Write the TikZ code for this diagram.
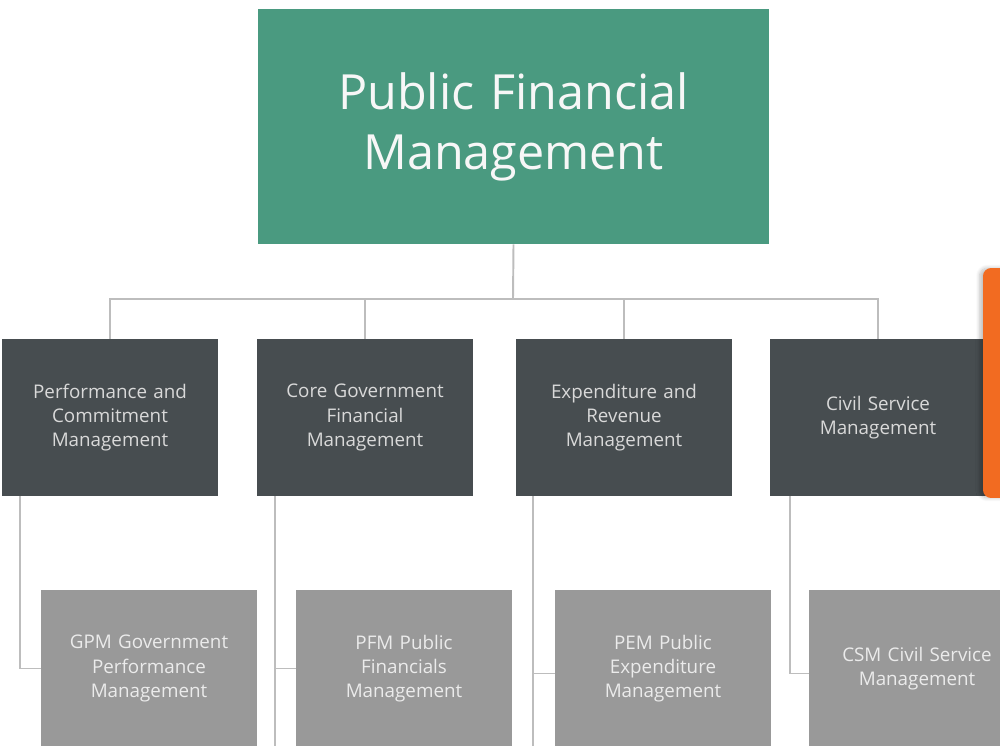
\documentclass[tikz,border=0pt]{standalone}
\usepackage{fontspec}
\setmainfont{Open Sans}
\usetikzlibrary{positioning,shadows.blur}

\definecolor{pfmgreen}{HTML}{4A9A80}
\definecolor{pfmdark}{HTML}{474D50}
\definecolor{pfmlight}{HTML}{999999}
\definecolor{pfmline}{HTML}{BDBDBD}
\definecolor{pfmorange}{HTML}{F26B21}

\begin{document}
\begin{tikzpicture}[
x=0.02cm,y=-0.02cm,
box/.style={
rectangle,
minimum width=4.32cm,
minimum height=3.14cm,
inner sep=0pt,
text width=3.9cm,
align=center},
root/.style={box,fill=pfmgreen,text=white!97!black,
minimum width=10.22cm,minimum height=4.7cm,text width=9cm,
font=\fontsize{27.6}{34.2}\selectfont},
area/.style={box,fill=pfmdark,text=white!85!black,
font=\fontsize{10.7}{13.7}\selectfont},
sub/.style={box,fill=pfmlight,text=white!92!black,
font=\fontsize{10.7}{13.7}\selectfont},
link/.style={draw=pfmline,line width=1.1pt},
panel/.style={rectangle,fill=pfmorange,rounded corners=.16cm,
minimum width=1.2cm,minimum height=4.6cm,
blur shadow={shadow xshift=-2pt,shadow yshift=0pt,shadow blur steps=8,shadow opacity=25}}
]
\clip (0,0) rectangle (1000,746);

\node[root] (pfm) at (513.5,126.5) {Public Financial\\Management};
\coordinate (bus) at (513,299);
\draw[link] (pfm.south) -- (bus);

% second level
\foreach \x/\t[count=\i] in {
110/{Performance and\\Commitment\\Management},
365/{Core Government\\Financial\\Management},
624/{Expenditure and\\Revenue\\Management},
878/{Civil Service\\Management}}{
\node[area] (m\i) at (\x,417.5) {\t};
\draw[link] (m\i.north) |- (bus);
}

% third level
\foreach \x/\t[count=\i] in {
149/{GPM Government\\Performance\\Management},
404/{PFM Public\\Financials\\Management},
663/{PEM Public\\Expenditure\\Management},
917/{CSM Civil Service\\Management}}{
\node[sub] (s\i) at (\x,668.5) {\t};
}

\coordinate (t1) at ([xshift=.36cm]m1.south west);
\coordinate (t2) at ([xshift=.36cm]m2.south west);
\coordinate (t3) at ([xshift=.34cm]m3.south west);
\coordinate (t4) at ([xshift=.4cm]m4.south west);
\draw[link] (t1) |- (s1.west);
\draw[link] (t2) |- (s2.west);
\draw[link] (t2) -- (t2 |- s2.south);
\draw[link] (t3) |- ([yshift=-.1cm]s3.west);
\draw[link] (t3) -- (t3 |- s3.south);
\draw[link] (t4) |- ([yshift=-.1cm]s4.west);

% side panel
\node[panel] (side) at (1013,383) {};

\end{tikzpicture}
\end{document}
